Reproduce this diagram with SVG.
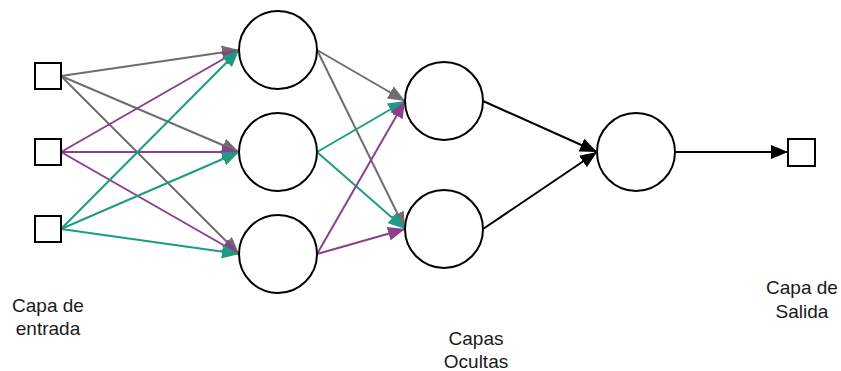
<svg xmlns="http://www.w3.org/2000/svg" width="841" height="371" viewBox="0 0 841 371">
<defs>
<style>
.node{fill:#fff;stroke:#000;stroke-width:2}
.c{fill:none;stroke-width:2}
.g{stroke:#6e6e6e}
.p{stroke:#8a3f8f}
.t{stroke:#1e9b80}
.k{stroke:#000}
.lbl{font-family:"Liberation Sans",Arial,sans-serif;font-size:19px;fill:#1a1a1a;text-anchor:middle}
</style>
<marker id="ag" markerUnits="userSpaceOnUse" markerWidth="18" markerHeight="14" refX="17" refY="7" orient="auto"><path d="M0,0 L17,7 L0,14 z" fill="#6e6e6e"/></marker>
<marker id="ap" markerUnits="userSpaceOnUse" markerWidth="18" markerHeight="14" refX="17" refY="7" orient="auto"><path d="M0,0 L17,7 L0,14 z" fill="#8a3f8f"/></marker>
<marker id="at" markerUnits="userSpaceOnUse" markerWidth="18" markerHeight="14" refX="17" refY="7" orient="auto"><path d="M0,0 L17,7 L0,14 z" fill="#1e9b80"/></marker>
<marker id="ak" markerUnits="userSpaceOnUse" markerWidth="18" markerHeight="14" refX="17" refY="7" orient="auto"><path d="M0,0 L17,7 L0,14 z" fill="#000"/></marker>
</defs>
<g id="connectors">
<line class="c g" x1="61" y1="76" x2="239" y2="50" marker-end="url(#ag)"/>
<line class="c g" x1="61" y1="76" x2="239" y2="152" marker-end="url(#ag)"/>
<line class="c g" x1="61" y1="76" x2="239" y2="254" marker-end="url(#ag)"/>
<line class="c p" x1="61" y1="152" x2="239" y2="50" marker-end="url(#ap)"/>
<line class="c p" x1="61" y1="152" x2="239" y2="152" marker-end="url(#ap)"/>
<line class="c p" x1="61" y1="152" x2="239" y2="254" marker-end="url(#ap)"/>
<line class="c t" x1="61" y1="229" x2="239" y2="50" marker-end="url(#at)"/>
<line class="c t" x1="61" y1="229" x2="239" y2="152" marker-end="url(#at)"/>
<line class="c t" x1="61" y1="229" x2="239" y2="254" marker-end="url(#at)"/>
<line class="c g" x1="317" y1="50" x2="405" y2="101" marker-end="url(#ag)"/>
<line class="c g" x1="317" y1="50" x2="405" y2="229" marker-end="url(#ag)"/>
<line class="c t" x1="317" y1="152" x2="405" y2="101" marker-end="url(#at)"/>
<line class="c t" x1="317" y1="152" x2="405" y2="229" marker-end="url(#at)"/>
<line class="c p" x1="317" y1="254" x2="405" y2="101" marker-end="url(#ap)"/>
<line class="c p" x1="317" y1="254" x2="405" y2="229" marker-end="url(#ap)"/>
<line class="c k" x1="483" y1="101" x2="597" y2="152" marker-end="url(#ak)"/>
<line class="c k" x1="483" y1="229" x2="597" y2="152" marker-end="url(#ak)"/>
<line class="c k" x1="675" y1="152" x2="788" y2="152" marker-end="url(#ak)"/>
</g>
<g id="in1"><rect class="node" x="35" y="63" width="26" height="26"/></g>
<g id="in2"><rect class="node" x="35" y="139" width="26" height="26"/></g>
<g id="in3"><rect class="node" x="35" y="216" width="26" height="26"/></g>
<g id="h1a"><circle class="node" cx="278" cy="50" r="39"/></g>
<g id="h1b"><circle class="node" cx="278" cy="152" r="39"/></g>
<g id="h1c"><circle class="node" cx="278" cy="254" r="39"/></g>
<g id="h2a"><circle class="node" cx="444" cy="101" r="39"/></g>
<g id="h2b"><circle class="node" cx="444" cy="229" r="39"/></g>
<g id="out"><circle class="node" cx="636" cy="152" r="39"/></g>
<g id="outsq"><rect class="node" x="788" y="139" width="27" height="27"/></g>
<g id="label-entrada"><text class="lbl" x="48" y="311.5">Capa de</text><text class="lbl" x="48" y="335">entrada</text></g>
<g id="label-ocultas"><text class="lbl" x="476" y="345">Capas</text><text class="lbl" x="476" y="368">Ocultas</text></g>
<g id="label-salida"><text class="lbl" x="802" y="294">Capa de</text><text class="lbl" x="802" y="317.5">Salida</text></g>
</svg>
